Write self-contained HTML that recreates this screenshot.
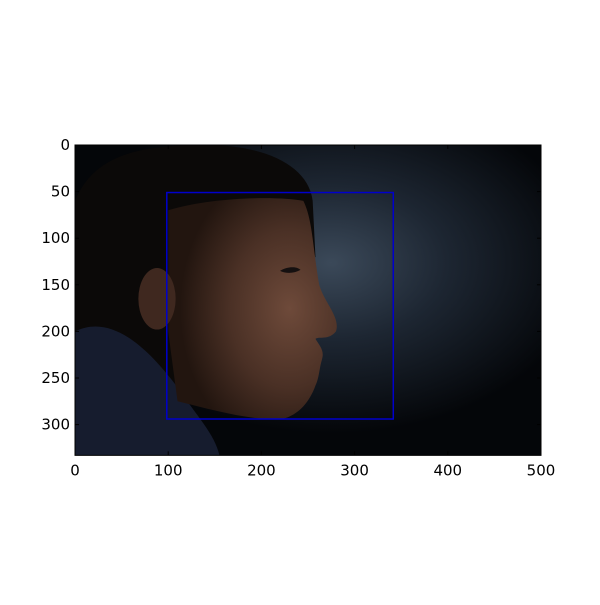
<!DOCTYPE html>
<html><head><meta charset="utf-8"><style>
body{margin:0;background:#fff;width:600px;height:600px;overflow:hidden}
svg{font-family:"DejaVu Sans","Liberation Sans",sans-serif}
</style></head><body>
<svg id="chart" width="600" height="600">
  <defs>
    <radialGradient id="bg" cx="0.55" cy="0.38" r="0.55">
      <stop offset="0" stop-color="#3b4959"/>
      <stop offset="0.45" stop-color="#1d2632"/>
      <stop offset="1" stop-color="#040609"/>
    </radialGradient>
    <radialGradient id="skin" cx="0.72" cy="0.5" r="0.65">
      <stop offset="0" stop-color="#6e4a3a"/>
      <stop offset="0.55" stop-color="#4a3025"/>
      <stop offset="1" stop-color="#22150f"/>
    </radialGradient>
  </defs>
  <g id="img"></g>
  <g id="overlay"></g>
  <g id="axes"></g>
</svg>
<script>
const xTicks=[0,100,200,300,400,500];
const yTicks=[0,50,100,150,200,250,300];
const imgW=[500];
const imgH=[333];
const boxX=[98.5,341.5];
const boxY=[51,294];
const L=75,T=145,R=541;
const s=(R-L)/imgW[0];
const sx=v=>L+v*s, sy=v=>T+v*s;
const B=sy(imgH[0]);
const NS="http://www.w3.org/2000/svg";
function mk(tag,attrs,parent){const e=document.createElementNS(NS,tag);for(const k in attrs)e.setAttribute(k,attrs[k]);parent.appendChild(e);return e;}
const img=document.getElementById('img');
img.setAttribute('transform',`translate(${L},${T}) scale(${s})`);
let e;
e=mk('rect',{x:0,y:0,width:500,height:333,fill:'url(#bg)'},img);


e=mk('path',{d:'M0,60 C20,10 70,0 140,0 C200,0 250,20 255,60 L258,120 L100,300 L0,300 Z',fill:'#0b0908'},img);


e=mk('path',{d:'M0,200 C40,180 80,220 110,260 C130,290 150,310 155,333 L0,333 Z',fill:'#161c2e'},img);


e=mk('path',{d:'M100,70 C150,55 220,55 245,60 C255,80 255,110 262,150 C268,170 285,185 280,200 C272,210 262,205 258,208 C262,215 268,220 265,230 C262,240 262,250 258,258 C252,275 240,290 222,294 C190,296 150,285 110,275 L100,200 Z',fill:'url(#skin)'},img);


e=mk('ellipse',{cx:88,cy:165,rx:20,ry:33,fill:'#3f281f'},img);


e=mk('path',{d:'M220,135 C228,130 238,130 242,134 C235,138 226,138 220,135 Z',fill:'#151010'},img);


const ov=document.getElementById('overlay');
e=mk('rect',{x:sx(boxX[0]),y:sy(boxY[0]),width:sx(boxX[1])-sx(boxX[0]),height:sy(boxY[1])-sy(boxY[0]),fill:'none',stroke:'#0000cc','stroke-width':1.5},ov);


const ax=document.getElementById('axes');
e=mk('rect',{x:L,y:T,width:R-L,height:B-T,fill:'none',stroke:'#000','stroke-width':1},ax);


xTicks.forEach(v=>{
  const x=sx(v);
  mk('line',{x1:x,y1:B,x2:x,y2:B-4,stroke:'#000'},ax);
  mk('line',{x1:x,y1:T,x2:x,y2:T+4,stroke:'#000'},ax);
  const t=mk('text',{x:x,y:B+20,'text-anchor':'middle','font-size':15},ax);
  t.textContent=v;
  
  
});
yTicks.forEach(v=>{
  const y=sy(v);
  mk('line',{x1:L,y1:y,x2:L+4,y2:y,stroke:'#000'},ax);
  mk('line',{x1:R,y1:y,x2:R-4,y2:y,stroke:'#000'},ax);
  const t=mk('text',{x:L-5,y:y+5,'text-anchor':'end','font-size':15},ax);
  t.textContent=v;
  
  
});
</script>
</body></html>
